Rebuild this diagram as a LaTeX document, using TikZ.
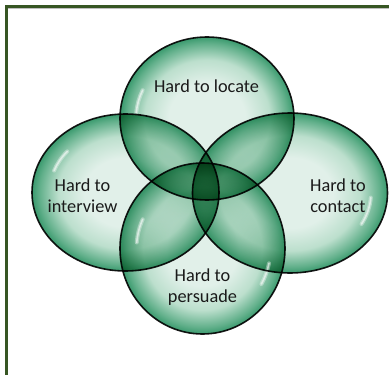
\documentclass[tikz,border=0pt]{standalone}
\usepackage{fontspec}
\setmainfont{Carlito}
\definecolor{frameg}{HTML}{375623}
\definecolor{bubin}{HTML}{E1F0E9}
\definecolor{bubmid}{HTML}{BCDFCD}
\definecolor{bubrim}{HTML}{62B08B}
\definecolor{bubout}{HTML}{3A9A6E}
\definecolor{txt}{HTML}{1A1A1A}
\pgfdeclareradialshading{bubble}{\pgfpoint{0bp}{0bp}}{color(0bp)=(bubin); color(11bp)=(bubin); color(18bp)=(bubmid); color(23bp)=(bubrim); color(25bp)=(bubout); color(50bp)=(bubout)}
\begin{document}
\begin{tikzpicture}[x=1pt,y=1pt,
  bubfill/.style={shading=bubble, blend mode=multiply},
  bubline/.style={draw=black, line width=1.6pt, draw opacity=0.9},
  gloss/.style={draw=white, line width=4pt, line cap=round, draw opacity=0.35},
  glosscore/.style={draw=white, line width=1.6pt, line cap=round, draw opacity=0.55},
  lbl/.style={font=\fontsize{18.3}{21}\selectfont, text=txt, align=center, inner sep=0pt}]
\useasboundingbox (0,0) rectangle (389,-375);
% frame
\coordinate (fa) at (6.5,-375);
\coordinate (fb) at (6.5,-6.5);
\coordinate (fc) at (389,-6.5);
\draw[frameg, line width=2.2pt] (fa) -- (fb) -- (fc);
\draw[black!25, line width=0.6pt] (7.8,-8.6) -- (389,-8.6);
% centers
\coordinate (cL) at (207,-118.5);
\coordinate (cI) at (125.5,-192.5);
\coordinate (cC) at (290,-193);
\coordinate (cP) at (202.5,-248.5);
% fills
\begin{scope}[transparency group]
\shade[bubfill] (cL) ellipse[x radius=87, y radius=81.5];
\shade[bubfill] (cI) ellipse[x radius=93.5, y radius=78.5];
\shade[bubfill] (cC) ellipse[x radius=97.5, y radius=80];
\shade[bubfill] (cP) ellipse[x radius=82.5, y radius=85.5];
\end{scope}
% gloss highlights
\foreach \s in {gloss,glosscore}{
\draw[\s] (cL) ++(155:71 and 67) arc[start angle=155, end angle=175, x radius=71, y radius=67];
\draw[\s] (cI) ++(140:76 and 64) arc[start angle=140, end angle=160, x radius=76, y radius=64];
\draw[\s] (cC) ++(-28:81 and 66) arc[start angle=-28, end angle=-4, x radius=81, y radius=66];
\draw[\s] (cP) ++(155:66 and 69) arc[start angle=155, end angle=175, x radius=66, y radius=69];
\draw[\s] (cP) ++(-30:68 and 71) arc[start angle=-30, end angle=-12, x radius=68, y radius=71];
}
% outlines
\draw[bubline] (cL) ellipse[x radius=87, y radius=81.5];
\draw[bubline] (cI) ellipse[x radius=93.5, y radius=78.5];
\draw[bubline] (cC) ellipse[x radius=97.5, y radius=80];
\draw[bubline] (cP) ellipse[x radius=82.5, y radius=85.5];
% labels
\node[lbl] (tL) at (206.5,-86) {Hard to locate};
\node[lbl] (tI) at (82.5,-196) {Hard to\\interview};
\node[lbl] (tC) at (338,-196) {Hard to\\contact};
\node[lbl] (tP) at (202.5,-287) {Hard to\\persuade};
\end{tikzpicture}
\end{document}
